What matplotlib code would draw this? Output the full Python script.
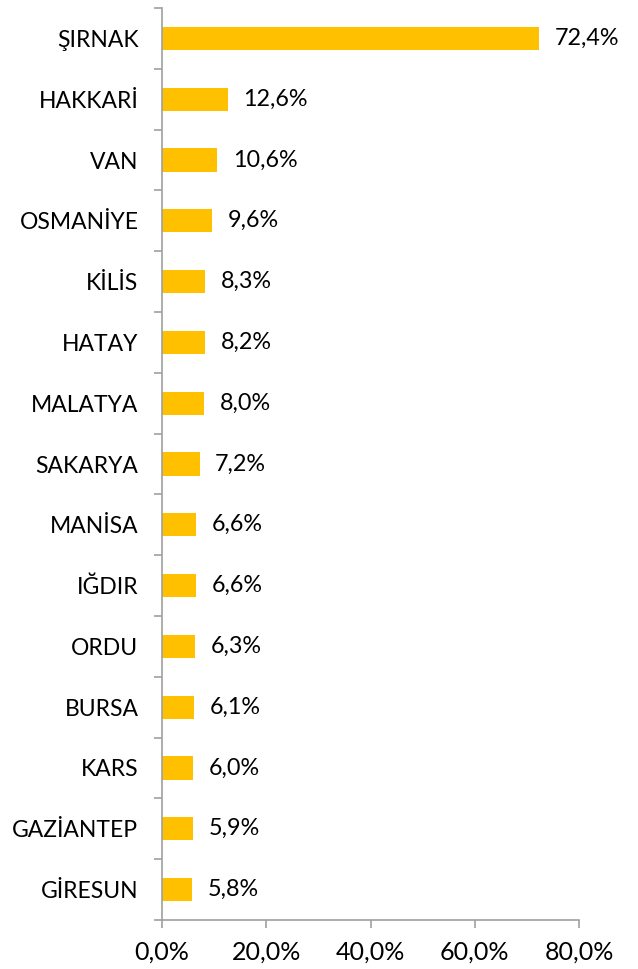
import numpy as np
import matplotlib.pyplot as plt

iller = ["ŞIRNAK", "HAKKARİ", "VAN", "OSMANİYE", "KİLİS", "HATAY", "MALATYA",
         "SAKARYA", "MANİSA", "IĞDIR", "ORDU", "BURSA", "KARS", "GAZİANTEP", "GİRESUN"]
oranlar = [72.4, 12.6, 10.6, 9.6, 8.3, 8.2, 8.0, 7.2, 6.6, 6.6, 6.3, 6.1, 6.0, 5.9, 5.8]
x_ticks = [0, 20, 40, 60, 80]

plt.rcParams['font.family'] = ['Lato', 'DejaVu Sans']

fig = plt.figure(figsize=(6.38, 9.69), dpi=100)
ax = fig.add_axes([0.254, 0.0506, 0.6535, 0.9411])

n = len(iller)
y = np.arange(n)[::-1]
ax.barh(y, oranlar, height=0.38, color="#FFC000")

for yi, v in zip(y, oranlar):
    ax.text(v + 3.0, yi, ("%.1f%%" % v).replace(".", ","), va="center", ha="left", fontsize=16.8)

ax.set_xlim(0, 80)
ax.set_ylim(-0.5, n - 0.5)
ax.set_xticks(x_ticks)
ax.set_xticklabels([("%.1f%%" % t).replace(".", ",") for t in x_ticks], fontsize=18)
ax.set_yticks(y)
ax.set_yticklabels(iller, fontsize=16.5)
ax.tick_params(axis="y", length=0, pad=17)
ax.set_yticks(np.arange(-0.5, n, 1.0), minor=True)
ax.tick_params(axis="y", which="minor", length=6, color="#A0A0A0", width=1.2)
ax.tick_params(axis="x", length=6, color="#A0A0A0", width=1.2, pad=9)

for s in ["top", "right"]:
    ax.spines[s].set_visible(False)
for s in ["left", "bottom"]:
    ax.spines[s].set_color("#A0A0A0")
    ax.spines[s].set_linewidth(1.2)

fig.savefig("out.png", dpi=100)
